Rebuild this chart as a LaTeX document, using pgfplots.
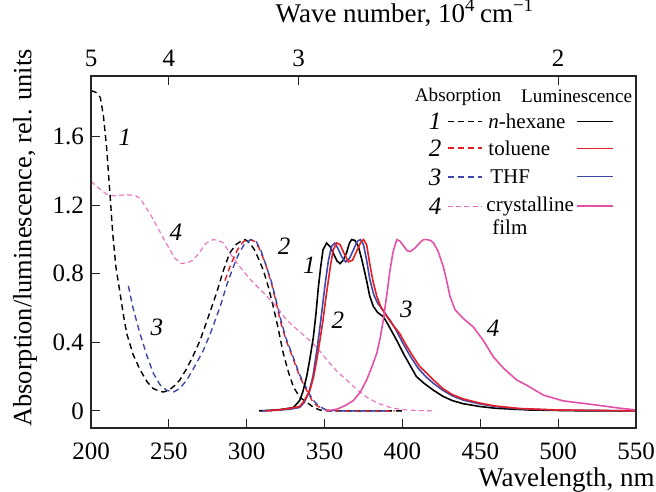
\documentclass[border=0pt]{standalone}
\usepackage{fontspec}
\setmainfont{Liberation Serif}
\usepackage{pgfplots}
\pgfplotsset{compat=1.18}

\definecolor{cred}{RGB}{228,30,36}
\definecolor{cblue}{RGB}{62,72,168}
\definecolor{cpink}{RGB}{228,80,168}
\definecolor{cpinkd}{RGB}{234,112,190}

\tikzset{
  absd/.style={line width=0.7pt, dash pattern=on 3pt off 2pt},
  pinkd/.style={line width=0.55pt, dash pattern=on 2.5pt off 1.6pt},
  lum/.style={line width=0.8pt},
}
\pgfplotsset{
  frame/.style={
    scale only axis, width=272.5pt, height=176pt,
    xmin=200, xmax=550, ymin=-0.1, ymax=1.955,
    axis line style={line width=0.65pt, black!85},
    tick align=inside, major tick length=4.5pt,
    tick style={line width=0.6pt, black!85},
    tick label style={font=\fontsize{12.5}{14}\selectfont},
    /pgf/number format/assume math mode=true,
    label style={font=\fontsize{13.5}{16}\selectfont, inner sep=0pt},
  },
}

\begin{document}
\begin{tikzpicture}
\begin{axis}[frame,
  clip=false,
  xtick={200,250,...,550}, xtick pos=left,
  ytick={0,0.4,0.8,1.2,1.6}, ytick pos=left,
  yticklabel style={/pgf/number format/fixed, /pgf/number format/precision=1},
  xticklabel style={anchor=center, yshift=-11.5pt, inner sep=0.5pt},
  yticklabel style={anchor=east, xshift=0pt},
  xlabel={Wavelength, nm},
  ylabel={Absorption/luminescence, rel. units},
  xlabel style={at={(axis description cs:1.035,-0.148)}, anchor=east},
  ylabel style={at={(axis description cs:-0.121,0.54)}, anchor=center,
    font=\fontsize{13.2}{16}\selectfont},
]
% absorption, n-hexane
\addplot[absd, black] coordinates {
(200,1.87)(203,1.86)(206,1.83)(208,1.72)(210,1.54)(212,1.29)(214,1.03)(216,0.84)
(218.6,0.69)(221,0.55)(223,0.45)(227,0.33)(231.5,0.24)(236,0.17)(240,0.13)(244,0.115)
(246.5,0.11)(250,0.12)(254,0.15)(257,0.18)(261,0.24)(265,0.31)(270,0.41)(275,0.54)
(280.7,0.69)(285,0.82)(289,0.92)(293,0.97)(297,0.995)(299,1.0)(302,0.98)(305,0.94)
(308,0.88)(310.7,0.82)(314,0.72)(317,0.61)(320,0.49)(323.5,0.335)(327,0.22)(330,0.14)
(334,0.08)(338.5,0.05)(343,0.02)(347,0.005)(352,0)(400,0)
};
% absorption, toluene
\addplot[absd, cred] coordinates {
(286,0.76)(290,0.86)(294,0.94)(298,0.99)(302,1.0)(305,0.99)(308,0.95)(312,0.86)
(316,0.74)(319,0.63)(321.4,0.53)(325,0.42)(330,0.30)(334,0.20)(338.5,0.12)(342,0.06)
(345,0.03)(351,0.005)(360,0)(395,0)
};
% absorption, THF
\addplot[absd, cblue] coordinates {
(224,0.73)(227,0.60)(231.5,0.45)(236,0.32)(240,0.22)(244.5,0.15)(248.6,0.12)(253,0.11)
(257,0.13)(261.5,0.18)(266,0.25)(272,0.35)(277,0.46)(283,0.61)(287,0.73)(291.4,0.84)
(295,0.92)(299,0.98)(303,1.0)(306,0.99)(309,0.94)(312,0.86)(316,0.75)(319,0.64)
(322,0.53)(325,0.43)(330,0.31)(334,0.21)(338.5,0.13)(342,0.07)(346,0.03)(351,0.005)
(360,0)(390,0)
};
% absorption, crystalline film
\addplot[pinkd, cpinkd] coordinates {
(200,1.34)(205,1.30)(210,1.265)(215,1.255)(220,1.26)(225,1.26)(229,1.255)(232,1.235)
(235,1.19)(238,1.15)(241,1.10)(244,1.05)(247,1.0)(250.7,0.94)(254,0.89)(258,0.86)
(262,0.865)(265.7,0.88)(270,0.93)(274,0.98)(278.5,1.0)(282,0.995)(285,0.98)(290,0.91)
(295.7,0.84)(302,0.77)(308.5,0.71)(313,0.67)(319,0.61)(325.7,0.53)(333,0.47)(340.6,0.41)
(346,0.36)(351.3,0.30)(358,0.23)(364.2,0.18)(370,0.13)(377,0.08)(384,0.045)(392,0.02)
(400,0.007)(410,0.002)(420,0)
};
% luminescence, n-hexane
\addplot[lum, black] coordinates {
(308,0)(315,0.003)(322,0.008)(327,0.015)(330,0.02)(334,0.06)(336,0.11)(338.5,0.2)
(340.5,0.30)(342.8,0.43)(344.5,0.57)(346,0.72)(347.5,0.84)(349,0.94)(351.3,0.98)
(353.5,0.96)(355.6,0.92)(358,0.875)(360,0.86)(362,0.88)(364,0.92)(366,0.98)(367.4,1.0)
(369.5,0.995)(371.7,0.96)(374,0.88)(377,0.76)(379,0.67)(381.3,0.61)(384,0.575)
(387.7,0.55)(391,0.50)(394,0.45)(397,0.40)(400.6,0.335)(404,0.28)(409,0.20)(414,0.16)
(420,0.12)(426,0.085)(432,0.06)(439,0.042)(450,0.025)(460,0.015)(482,0.005)(510,0.001)(550,0)
};
% luminescence, THF
\addplot[lum, cblue] coordinates {
(310,0)(320,0.004)(328,0.01)(334,0.02)(337,0.05)(340,0.11)(342.5,0.20)(344.5,0.32)
(346.5,0.45)(348.5,0.60)(350.5,0.75)(352.5,0.88)(354.5,0.96)(356.5,0.98)(358.5,0.95)
(361,0.90)(363.5,0.87)(366,0.89)(368.5,0.94)(371,0.99)(373,1.0)(375,0.97)(377,0.88)
(379,0.77)(381.5,0.68)(384,0.63)(388,0.58)(392,0.53)(396,0.47)(400,0.40)(405,0.32)
(410,0.25)(415,0.20)(420,0.16)(426,0.12)(432,0.088)(439,0.063)(450,0.04)(460,0.025)
(475,0.012)(500,0.004)(550,0)
};
% luminescence, toluene
\addplot[lum, cred] coordinates {
(312,0)(320,0.005)(328,0.015)(334,0.025)(337,0.06)(340.6,0.12)(343,0.20)(345,0.30)
(347,0.41)(349,0.53)(350.7,0.65)(352.4,0.76)(354,0.86)(355.6,0.94)(357.8,0.98)(360,0.97)
(362.5,0.92)(365.3,0.87)(368,0.88)(370.5,0.93)(373,0.98)(375,1.0)(377,0.97)(379,0.86)
(381,0.76)(383.5,0.67)(386,0.61)(390,0.55)(394,0.50)(398.4,0.45)(402,0.39)(407,0.315)
(411,0.26)(415.6,0.22)(420,0.18)(426,0.13)(432,0.095)(439,0.07)(450,0.045)(460,0.028)
(475,0.014)(500,0.005)(550,0)
};
% luminescence, crystalline film
\addplot[lum, cpink] coordinates {
(351,0)(358,0.01)(363,0.03)(368.5,0.06)(373,0.11)(377,0.18)(380.5,0.26)(383.5,0.335)
(385.8,0.43)(387.7,0.53)(390,0.68)(392,0.82)(394,0.93)(396.4,1.0)(398.5,0.99)(401,0.96)
(403,0.935)(405,0.93)(408,0.95)(411,0.98)(413.5,1.0)(415.6,1.0)(418,0.995)(420,0.98)
(423,0.93)(426.3,0.84)(428.4,0.76)(430.5,0.67)(433.8,0.59)(439,0.54)(445.5,0.49)
(452,0.41)(458.4,0.315)(464.8,0.25)(473.4,0.18)(479.8,0.15)(490.5,0.092)(503.3,0.058)
(520.5,0.039)(537.6,0.018)(550,0.005)
};

% curve numbers
\begin{scope}[font=\fontsize{12.5}{14}\selectfont\itshape]
\node at (axis cs:221.8,1.60) {1};
\node at (axis cs:242.3,0.49) {3};
\node at (axis cs:254.5,1.04) {4};
\node at (axis cs:324.0,0.96) {2};
\node at (axis cs:340.3,0.85) {1};
\node at (axis cs:358.5,0.53) {2};
\node at (axis cs:402.5,0.59) {3};
\node at (axis cs:458.3,0.48) {4};
\end{scope}

% legend
\begin{scope}[font=\fontsize{10.5}{12}\selectfont]
\node[font=\fontsize{9.6}{11}\selectfont] at (axis cs:435.7,1.834) {Absorption};
\node[font=\fontsize{9.6}{11}\selectfont] at (axis cs:511.9,1.834) {Luminescence};
\node[font=\fontsize{12.5}{14}\selectfont\itshape] at (axis cs:421,1.688) {1};
\node[font=\fontsize{12.5}{14}\selectfont\itshape] at (axis cs:421,1.534) {2};
\node[font=\fontsize{12.5}{14}\selectfont\itshape] at (axis cs:421,1.366) {3};
\node[font=\fontsize{12.5}{14}\selectfont\itshape] at (axis cs:421,1.195) {4};
\draw[absd, black] (axis cs:429.3,1.688) -- (axis cs:451.1,1.688);
\draw[absd, cred] (axis cs:429.3,1.534) -- (axis cs:451.1,1.534);
\draw[absd, cblue] (axis cs:429.3,1.366) -- (axis cs:451.1,1.366);
\draw[pinkd, cpinkd] (axis cs:429.3,1.195) -- (axis cs:451.1,1.195);
\node[anchor=west, inner sep=0pt] at (axis cs:455,1.688) {\textit{n}-hexane};
\node[anchor=west, inner sep=0pt] at (axis cs:455,1.534) {toluene};
\node[anchor=west, inner sep=0pt] at (axis cs:456.2,1.366) {THF};
\node[anchor=west, inner sep=0pt] at (axis cs:453.7,1.195) {crystalline};
\node[anchor=west, inner sep=0pt] at (axis cs:457.5,1.074) {film};
\draw[line width=0.6pt, black] (axis cs:512.1,1.688) -- (axis cs:535.2,1.688);
\draw[line width=0.6pt, cred] (axis cs:512.1,1.534) -- (axis cs:535.2,1.534);
\draw[line width=0.6pt, cblue] (axis cs:512.1,1.366) -- (axis cs:535.2,1.366);
\draw[line width=0.8pt, cpink] (axis cs:512.1,1.195) -- (axis cs:535.2,1.195);
\end{scope}
\end{axis}

% upper axis: wave number
\begin{axis}[frame,
  xtick={200,250,333.333,500}, xticklabels={5,4,3,2},
  xtick pos=right, xticklabel pos=right,
  xticklabel style={anchor=center, yshift=9pt},
  ytick=\empty,
  xlabel={Wave number, 10\textsuperscript{4}\,cm\textsuperscript{−1}},
  xlabel style={at={(axis description cs:0.576,1.179)}, anchor=center},
]
\end{axis}
\pgfresetboundingbox
\path[use as bounding box] (-45.5pt,-31.5pt) rectangle (282.5pt,214pt);
\end{tikzpicture}
\end{document}
